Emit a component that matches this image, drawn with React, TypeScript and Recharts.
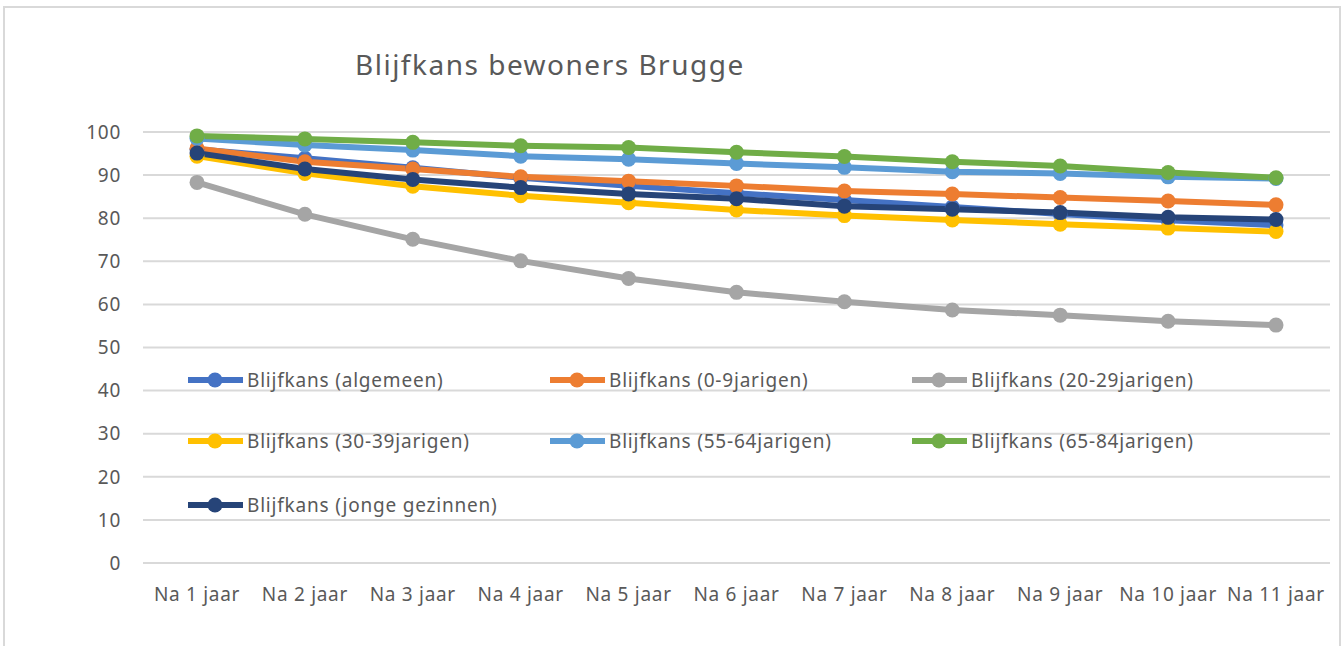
import { LineChart, Line, XAxis, YAxis, CartesianGrid } from 'recharts';

// Categories on the x axis
const years = ['Na 1 jaar', 'Na 2 jaar', 'Na 3 jaar', 'Na 4 jaar', 'Na 5 jaar', 'Na 6 jaar', 'Na 7 jaar', 'Na 8 jaar', 'Na 9 jaar', 'Na 10 jaar', 'Na 11 jaar'];

// Series values (percent)
const algemeen = [96.0, 93.9, 91.7, 89.4, 87.5, 85.8, 84.2, 82.6, 81.0, 79.5, 78.4];
const jarigen0_9 = [96.2, 93.1, 91.4, 89.6, 88.6, 87.5, 86.3, 85.6, 84.8, 84.0, 83.1];
const jarigen20_29 = [88.3, 80.9, 75.1, 70.1, 66.0, 62.8, 60.6, 58.7, 57.5, 56.1, 55.2];
const jarigen30_39 = [94.4, 90.4, 87.4, 85.2, 83.6, 81.9, 80.6, 79.6, 78.6, 77.7, 76.9];
const jarigen55_64 = [98.5, 97.0, 95.8, 94.4, 93.7, 92.7, 91.8, 90.8, 90.4, 89.6, 89.2];
const jarigen65_84 = [99.1, 98.4, 97.6, 96.8, 96.4, 95.3, 94.3, 93.1, 92.1, 90.6, 89.4];
const jongeGezinnen = [95.1, 91.4, 89.0, 87.1, 85.6, 84.5, 82.8, 82.1, 81.3, 80.2, 79.7];

const yTicks = [0, 10, 20, 30, 40, 50, 60, 70, 80, 90, 100];

const series = [
  { key: 'algemeen', name: 'Blijfkans (algemeen)', color: '#4472C4', values: algemeen },
  { key: 'j0_9', name: 'Blijfkans (0-9jarigen)', color: '#ED7D31', values: jarigen0_9 },
  { key: 'j20_29', name: 'Blijfkans (20-29jarigen)', color: '#A5A5A5', values: jarigen20_29 },
  { key: 'j30_39', name: 'Blijfkans (30-39jarigen)', color: '#FFC000', values: jarigen30_39 },
  { key: 'j55_64', name: 'Blijfkans (55-64jarigen)', color: '#5B9BD5', values: jarigen55_64 },
  { key: 'j65_84', name: 'Blijfkans (65-84jarigen)', color: '#70AD47', values: jarigen65_84 },
  { key: 'jonge', name: 'Blijfkans (jonge gezinnen)', color: '#264478', values: jongeGezinnen },
];

const data = years.map((name, i) => {
  const row: Record<string, string | number> = { name };
  series.forEach((s) => {
    row[s.key] = s.values[i];
  });
  return row;
});

const FONT = '"Noto Sans", sans-serif';
const TEXT = '#595959';
const tickStyle = { fill: TEXT, fontSize: 19, fontFamily: FONT, letterSpacing: 0.7 };

// legend sits inside the plot area, like the original Excel chart
const LegendBox = () => (
  <div
    style={{
      position: 'absolute',
      left: 188,
      top: 361,
      display: 'grid',
      gridTemplateColumns: '362px 362px 362px',
      gridTemplateRows: '61px 64px 40px',
      fontFamily: FONT,
      fontSize: 19,
      letterSpacing: 0.8,
      color: TEXT,
    }}
  >
    {series.map((s) => (
      <div key={s.key} style={{ display: 'flex', alignItems: 'center', height: 38 }}>
        <svg width={57} height={16} style={{ marginRight: 2, flex: 'none' }}>
          <line x1={0} y1={8} x2={55} y2={8} stroke={s.color} strokeWidth={6} />
          <circle cx={27} cy={8} r={7.5} fill={s.color} />
        </svg>
        <span style={{ whiteSpace: 'nowrap' }}>{s.name}</span>
      </div>
    ))}
  </div>
);

export default function App() {
  return (
    <div
      style={{
        position: 'absolute',
        left: 0,
        top: 0,
        width: 1344,
        height: 646,
        background: '#fff',
        overflow: 'hidden',
      }}
    >
      <div
        style={{
          position: 'absolute',
          left: 3,
          top: 6,
          width: 1334,
          height: 660,
          border: '2px solid #d9d9d9',
        }}
      />
      <div
        style={{
          position: 'absolute',
          left: 355,
          top: 45,
          fontFamily: FONT,
          fontSize: 28,
          letterSpacing: 1.5,
          color: TEXT,
          whiteSpace: 'nowrap',
        }}
      >
        Blijfkans bewoners Brugge
      </div>
      <LineChart
        width={1344}
        height={646}
        data={data}
        margin={{ top: 132, right: 14, left: 0, bottom: 0 }}
        style={{ position: 'absolute', left: 0, top: 0 }}
      >
        <CartesianGrid vertical={false} stroke="#d9d9d9" strokeWidth={2} />
        <XAxis
          dataKey="name"
          axisLine={false}
          tickLine={false}
          height={83}
          padding={{ left: 54, right: 54 }}
          tickSize={6}
          tickMargin={19}
          tick={tickStyle}
          interval={0}
        />
        <YAxis
          domain={[0, 100]}
          ticks={yTicks}
          axisLine={false}
          tickLine={false}
          width={143}
          tickSize={6}
          tickMargin={16}
          tick={tickStyle}
        />
        {series.map((s) => (
          <Line
            key={s.key}
            dataKey={s.key}
            name={s.name}
            stroke={s.color}
            strokeWidth={6}
            dot={{ r: 7.5, fill: s.color, stroke: s.color, strokeWidth: 0 }}
            activeDot={false}
            isAnimationActive={false}
          />
        ))}
      </LineChart>
      <LegendBox />
    </div>
  );
}
